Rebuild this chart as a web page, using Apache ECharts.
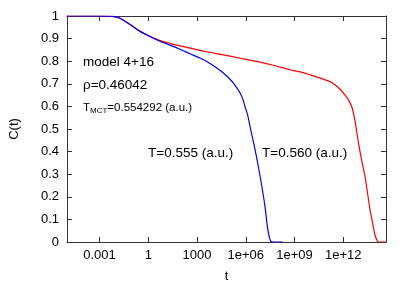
<!DOCTYPE html>
<html>
<head>
<meta charset="utf-8">
<script src="https://cdn.jsdelivr.net/npm/echarts@6/dist/echarts.min.js"></script>
<style>
html,body{margin:0;padding:0;background:#fff;}
#c{width:411px;height:288px;}
</style>
</head>
<body>
<div id="c"></div>
<script>
// x values are log10(t)
const xTickExp = [-3, 0, 3, 6, 9, 12];
const xTickLabels = ['0.001', '1', '1000', '1e+06', '1e+09', '1e+12'];

const blueLogT = [-5, -3, -2.2, -1.74, -1.12, -0.51, 0.11, 0.72, 1.34, 1.95, 2.57, 3.18, 3.6, 4.11, 4.62, 4.91, 5.23, 5.46, 5.65, 5.83, 5.95, 6.11, 6.26, 6.57, 6.88, 7.18, 7.31, 7.39, 7.46, 7.55, 7.68, 8.29];
const blueC    = [1, 1, 0.998, 0.99, 0.962, 0.932, 0.909, 0.888, 0.871, 0.853, 0.833, 0.814, 0.799, 0.775, 0.748, 0.729, 0.704, 0.681, 0.659, 0.63, 0.6, 0.564, 0.512, 0.41, 0.292, 0.16, 0.079, 0.043, 0.018, 0.003, 0, 0];

const redLogT = [-5, -3, -2.2, -1.74, -1.12, -0.51, 0.11, 0.72, 1.34, 1.95, 2.57, 3.5, 4.62, 5.6, 6.67, 7.7, 8.72, 9.34, 9.95, 10.57, 11.19, 11.49, 11.8, 12.11, 12.31, 12.54, 12.72, 12.93, 13.12, 13.34, 13.65, 13.83, 13.95, 14.08, 14.17, 14.63];
const redC    = [1, 1, 0.998, 0.99, 0.962, 0.933, 0.91, 0.891, 0.879, 0.868, 0.858, 0.843, 0.828, 0.814, 0.799, 0.782, 0.762, 0.753, 0.74, 0.726, 0.709, 0.696, 0.676, 0.65, 0.63, 0.595, 0.537, 0.441, 0.366, 0.289, 0.142, 0.075, 0.031, 0.007, 0, 0];

const FONT = '"Liberation Sans", Arial, sans-serif';
const chart = echarts.init(document.getElementById('c'), null, {renderer: 'canvas'});

function pairs(xs, ys) { return xs.map((x, i) => [x, ys[i]]); }
function fmtX(v) {
  const i = xTickExp.indexOf(Math.round(v));
  return i >= 0 ? xTickLabels[i] : '';
}

// measure widths for subscript layout
const mctx = document.createElement('canvas').getContext('2d');
function tw(s, size) { mctx.font = size + 'px ' + FONT; return mctx.measureText(s).width; }
const mainSz = 11.5, subSz = 8;
const tx0 = 83;
const tx1 = tx0 + tw('T', mainSz);
const tx2 = tx1 + tw('MCT', subSz);

const axisCol = '#333';
const commonX = {
  type: 'value', min: -5, max: 14.63,
  splitLine: {show: false},
  axisLine: {show: true, onZero: false, lineStyle: {color: axisCol, width: 1}},
};
const commonY = {
  type: 'value', min: 0, max: 1, interval: 0.1,
  splitLine: {show: false},
  axisLine: {show: true, onZero: false, lineStyle: {color: axisCol, width: 1}},
};

chart.setOption({
  animation: false,
  backgroundColor: '#fff',
  grid: {left: 67, right: 25, top: 16, bottom: 45, containLabel: false},
  xAxis: [
    Object.assign({}, commonX, {
      position: 'bottom',
      name: 't', nameLocation: 'middle', nameGap: 28,
      nameTextStyle: {fontFamily: FONT, fontSize: 13, color: '#000'},
      axisTick: {inside: true, length: 5, customValues: xTickExp, lineStyle: {color: axisCol}},
      axisLabel: {customValues: xTickExp, formatter: fmtX, margin: 7, fontFamily: FONT, fontSize: 13, color: '#000'}
    }),
    Object.assign({}, commonX, {
      position: 'top',
      axisTick: {inside: true, length: 5, customValues: xTickExp, lineStyle: {color: axisCol}},
      axisLabel: {show: false}
    })
  ],
  yAxis: [
    Object.assign({}, commonY, {
      position: 'left',
      name: 'C(t)', nameLocation: 'middle', nameGap: 46,
      nameTextStyle: {fontFamily: FONT, fontSize: 13, color: '#000'},
      axisTick: {inside: true, length: 5, lineStyle: {color: axisCol}},
      axisLabel: {margin: 8, fontFamily: FONT, fontSize: 13, color: '#000',
        formatter: v => String(Math.round(v * 10) / 10)}
    }),
    Object.assign({}, commonY, {
      position: 'right',
      axisTick: {inside: true, length: 5, lineStyle: {color: axisCol}},
      axisLabel: {show: false}
    })
  ],
  series: [
    {type: 'line', xAxisIndex: 0, yAxisIndex: 0, data: pairs(blueLogT, blueC), showSymbol: false,
     smooth: 0.25, lineStyle: {color: '#0000ff', width: 1.2}, z: 3},
    {type: 'line', xAxisIndex: 0, yAxisIndex: 0, data: pairs(redLogT, redC), showSymbol: false,
     smooth: 0.25, lineStyle: {color: '#ff0000', width: 1.2}, z: 2}
  ],
  graphic: [
    {type: 'text', x: tx0, y: 62, style: {text: 'model 4+16', fill: '#000', font: '13.5px ' + FONT, verticalAlign: 'middle'}},
    {type: 'text', x: tx0, y: 85, style: {text: 'ρ=0.46042', fill: '#000', font: '13.5px ' + FONT, verticalAlign: 'middle'}},
    {type: 'text', x: tx0, y: 108, style: {text: 'T', fill: '#000', font: mainSz + 'px ' + FONT, verticalAlign: 'middle'}},
    {type: 'text', x: tx1, y: 111, style: {text: 'MCT', fill: '#000', font: subSz + 'px ' + FONT, verticalAlign: 'middle'}},
    {type: 'text', x: tx2, y: 108, style: {text: '=0.554292 (a.u.)', fill: '#000', font: mainSz + 'px ' + FONT, verticalAlign: 'middle'}},
    {type: 'text', x: 148, y: 153, style: {text: 'T=0.555 (a.u.)', fill: '#000', font: '13.5px ' + FONT, verticalAlign: 'middle'}},
    {type: 'text', x: 262, y: 153, style: {text: 'T=0.560 (a.u.)', fill: '#000', font: '13.5px ' + FONT, verticalAlign: 'middle'}}
  ]
});
</script>
</body>
</html>
